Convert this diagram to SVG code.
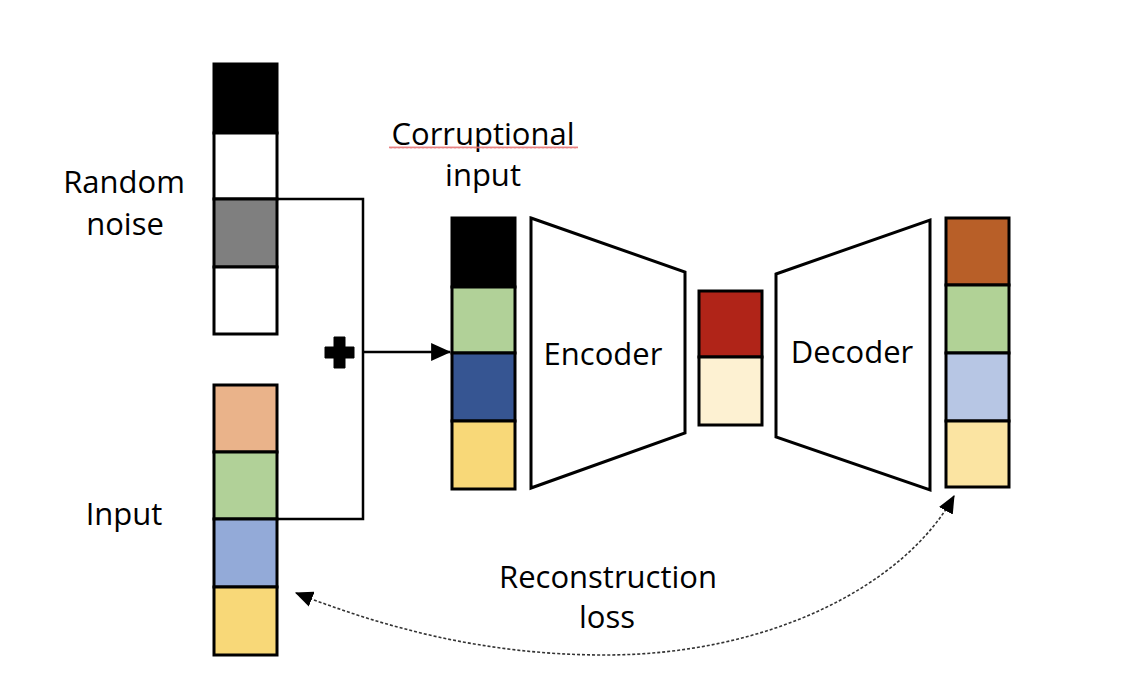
<svg xmlns="http://www.w3.org/2000/svg" width="1142" height="700" viewBox="0 0 1142 700">
  <style>
    .cell { stroke: #000; stroke-width: 3; }
    .trap { fill: #fff; stroke: #000; stroke-width: 3; stroke-linejoin: miter; }
    .lbl { font-family: "Open Sans", "Noto Sans", sans-serif; font-size: 31px; fill: #000; text-anchor: middle; }
    .conn { fill: none; stroke: #000; stroke-width: 2.5; }
    .loss { fill: none; stroke: #333; stroke-width: 1.6; stroke-dasharray: 3 2; }
  </style>
  <defs>
    <marker id="arrowSolid" markerUnits="userSpaceOnUse" markerWidth="20" markerHeight="18" viewBox="0 0 18 16" refX="17" refY="8" orient="auto">
      <path d="M0 0 L18 8 L0 16 Z" fill="#000"/>
    </marker>
    <marker id="arrowDash" markerUnits="userSpaceOnUse" markerWidth="18" markerHeight="16" viewBox="0 0 16 14" refX="15" refY="7" orient="auto-start-reverse">
      <path d="M0 0 L16 7 L0 14 Z" fill="#000"/>
    </marker>
    <pattern id="squiggle" patternUnits="userSpaceOnUse" x="389" y="146" width="4" height="3">
      <path d="M0 2.5 L1 0.5 L2 2.5 L3 0.5 L4 2.5" fill="none" stroke="#e57373" stroke-width="0.9"/>
    </pattern>
  </defs>
  <rect width="1142" height="700" fill="#fff"/>

  <g id="random-noise">
    <rect class="cell" x="214" y="64" width="63" height="69" fill="#000"/>
    <rect class="cell" x="214" y="133" width="63" height="66" fill="#fff"/>
    <rect class="cell" x="214" y="199" width="63" height="68" fill="#7f7f7f"/>
    <rect class="cell" x="214" y="267" width="63" height="67" fill="#fff"/>
    <text class="lbl" x="124" y="193">Random</text>
    <text class="lbl" x="125" y="235">noise</text>
  </g>

  <g id="input">
    <rect class="cell" x="214" y="385" width="63" height="67" fill="#eab38a"/>
    <rect class="cell" x="214" y="452" width="63" height="67" fill="#b1d198"/>
    <rect class="cell" x="214" y="519" width="63" height="68" fill="#93aad8"/>
    <rect class="cell" x="214" y="587" width="63" height="68" fill="#f8d878"/>
    <text class="lbl" x="124" y="525">Input</text>
  </g>

  <g id="plus">
    <path d="M334 337 H345 V347 H354 V358 H345 V368 H334 V358 H325 V347 H334 Z" fill="#000" stroke="#000" stroke-width="1" stroke-linejoin="round"/>
  </g>

  <g id="corrupted-input">
    <rect class="cell" x="452" y="218" width="63" height="69" fill="#000"/>
    <rect class="cell" x="452" y="287" width="63" height="66" fill="#b1d198"/>
    <rect class="cell" x="452" y="353" width="63" height="68" fill="#365592"/>
    <rect class="cell" x="452" y="421" width="63" height="68" fill="#f8d878"/>
    <text class="lbl" x="483" y="145">Corruptional</text>
    <rect x="389" y="146" width="189" height="3" fill="url(#squiggle)"/>
    <text class="lbl" x="483" y="186">input</text>
  </g>

  <g id="encoder">
    <polygon class="trap" points="531,218 685,272 685,433 531,488"/>
    <text class="lbl" x="603" y="365">Encoder</text>
  </g>

  <g id="latent">
    <rect class="cell" x="699" y="291" width="63" height="66" fill="#b02418"/>
    <rect class="cell" x="699" y="357" width="63" height="68" fill="#fdf1d2"/>
  </g>

  <g id="decoder">
    <polygon class="trap" points="776,274 930,220 930,490 776,437"/>
    <text class="lbl" x="852" y="363">Decoder</text>
  </g>

  <g id="output">
    <rect class="cell" x="946" y="218" width="63" height="67" fill="#b85f28"/>
    <rect class="cell" x="946" y="285" width="63" height="68" fill="#b1d296"/>
    <rect class="cell" x="946" y="353" width="63" height="68" fill="#b7c6e4"/>
    <rect class="cell" x="946" y="421" width="63" height="66" fill="#fbe4a2"/>
  </g>

  <g id="connectors">
    <polyline class="conn" points="277,199 363,199 363,519 277,519"/>
    <line class="conn" x1="363" y1="352" x2="450" y2="352" marker-end="url(#arrowSolid)"/>
    <path class="loss" d="M954 496 C905 585 770 655 605 655 C485 655 385 628 296 593" marker-start="url(#arrowDash)" marker-end="url(#arrowDash)"/>
    <text class="lbl" x="608" y="588">Reconstruction</text>
    <text class="lbl" x="607" y="628">loss</text>
  </g>
</svg>
